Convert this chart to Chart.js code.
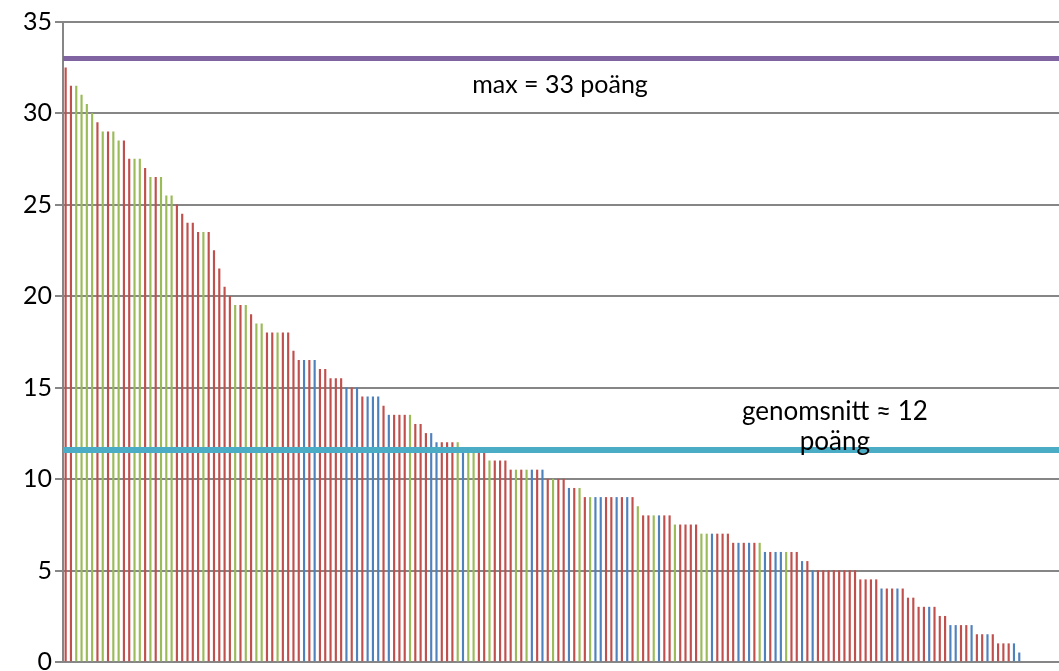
<!DOCTYPE html>
<html>
<head>
<meta charset="utf-8">
<script src="https://cdn.jsdelivr.net/npm/chart.js@4/dist/chart.umd.min.js"></script>
<style>
  html, body { margin: 0; padding: 0; background: #fff; }
  #wrap { width: 1059px; height: 671px; }
</style>
</head>
<body>
<div id="wrap"><canvas id="myChart"></canvas></div>
<script>
(() => {
  'use strict'

  // poäng per deltagare, sorterat fallande (sista är noll)
  const scores = [
    32.5, 31.5, 31.5, 31, 30.5, 30, 29.5, 29, 29, 29,
    28.5, 28.5, 27.5, 27.5, 27.5, 27, 26.5, 26.5, 26.5, 25.5,
    25.5, 25, 24.5, 24, 24, 23.5, 23.5, 23.5, 22.5, 21.5,
    20.5, 20, 19.5, 19.5, 19.5, 19, 18.5, 18.5, 18, 18,
    18, 18, 18, 17, 16.5, 16.5, 16.5, 16.5, 16, 16,
    15.5, 15.5, 15.5, 15, 15, 15, 14.5, 14.5, 14.5, 14.5,
    14, 13.5, 13.5, 13.5, 13.5, 13.5, 13, 13, 12.5, 12.5,
    12, 12, 12, 12, 12, 11.5, 11.5, 11.5, 11.5, 11.5,
    11, 11, 11, 11, 10.5, 10.5, 10.5, 10.5, 10.5, 10.5,
    10.5, 10, 10, 10, 10, 9.5, 9.5, 9.5, 9, 9,
    9, 9, 9, 9, 9, 9, 9, 9, 8.5, 8,
    8, 8, 8, 8, 8, 7.5, 7.5, 7.5, 7.5, 7.5,
    7, 7, 7, 7, 7, 7, 6.5, 6.5, 6.5, 6.5,
    6.5, 6.5, 6, 6, 6, 6, 6, 6, 6, 5.5,
    5.5, 5, 5, 5, 5, 5, 5, 5, 5, 5,
    4.5, 4.5, 4.5, 4.5, 4, 4, 4, 4, 4, 3.5,
    3.5, 3, 3, 3, 3, 2.5, 2.5, 2, 2, 2,
    2, 2, 1.5, 1.5, 1.5, 1.5, 1, 1, 1, 1,
    0.5, 0, 0, 0, 0, 0, 0, 0
  ]

  // grupp per deltagare: R = röd, G = grön, B = blå
  const groups = (
    'RRGGGGRGRG' + 'GRRGGRGRGG' + 'GRRRRRGRRR' + 'RRGRGRGGRR' +
    'GRRRRBRBRR' + 'RRRBRBRBBB' + 'RBRRRGRRRB' + 'BRRRGBGGRR' +
    'GRRRRGRGBR' + 'BRGRRBRGRG' + 'BBRRBRBRGR' + 'RGBRRGRRRR' +
    'GGBRRRRBRB' + 'RGBRBBGRRB' + 'RBRRRRRRRR' + 'RRRRBRRBRR' +
    'RRRBRRRBBR' + 'RBRRBRRRRB' + 'B'
  ).split('')

  const categories = scores.map((_, i) => String(i + 1))
  const yTicks = [0, 5, 10, 15, 20, 25, 30, 35]

  const maxScore = 33
  const avgScore = 11.6

  const series = [
    { key: 'R', color: '#C0504D' },
    { key: 'G', color: '#9BBB59' },
    { key: 'B', color: '#4F81BD' }
  ]

  const barSets = series.map(s => ({
    type: 'bar',
    data: scores.map((v, i) => (groups[i] === s.key ? v : null)),
    backgroundColor: s.color,
    borderWidth: 0,
    barThickness: 1.5,
    grouped: false,
    order: 2
  }))

  const refLine = (value, color, width) => ({
    type: 'line',
    xAxisID: 'xl',
    data: [{ x: 0, y: value }, { x: 1, y: value }],
    borderColor: color,
    borderWidth: width,
    pointRadius: 0,
    order: 0
  })

  // texter vid referenslinjerna
  const labelsPlugin = {
    id: 'refLabels',
    afterDatasetsDraw (chart) {
      const { ctx, scales } = chart
      const xl = scales.xl
      const y = scales.y
      ctx.save()
      ctx.fillStyle = '#000'
      ctx.font = '25px Lato, "Open Sans", sans-serif'
      ctx.textAlign = 'center'
      ctx.textBaseline = 'middle'
      ctx.fillText('max = 33 poäng', xl.getPixelForValue(0.499), y.getPixelForValue(31.55))
      ctx.font = '26px Lato, "Open Sans", sans-serif'
      ctx.fillText('genomsnitt ≈ 12', xl.getPixelForValue(0.775), y.getPixelForValue(13.7))
      ctx.fillText('poäng', xl.getPixelForValue(0.775), y.getPixelForValue(12.05))
      ctx.restore()
    }
  }

  const ctx = document.getElementById('myChart')
  // eslint-disable-next-line no-unused-vars
  const myChart = new Chart(ctx, {
    data: {
      labels: categories,
      datasets: [
        refLine(maxScore, '#8064A2', 5),
        refLine(avgScore, '#4BACC6', 6),
        ...barSets
      ]
    },
    options: {
      responsive: true,
      maintainAspectRatio: false,
      animation: false,
      layout: { padding: { left: 0, top: 22, right: 0, bottom: 9 } },
      plugins: {
        legend: { display: false },
        tooltip: { enabled: false }
      },
      scales: {
        x: { display: false },
        xl: { type: 'linear', display: false, min: 0, max: 1 },
        y: {
          min: 0,
          max: 35,
          afterBuildTicks (scale) {
            scale.ticks = yTicks.map(v => ({ value: v }))
          },
          afterFit (scale) {
            scale.width = 63
            scale.paddingTop = 0
            scale.paddingBottom = 0
          },
          grid: {
            color: '#868686',
            lineWidth: 2,
            tickLength: 8,
            tickColor: '#868686'
          },
          border: { display: true, color: '#868686', width: 2 },
          ticks: {
            color: '#000',
            padding: 3,
            font: { family: 'Lato, "Open Sans", sans-serif', size: 25 }
          }
        }
      }
    },
    plugins: [labelsPlugin]
  })
})()
</script>
</body>
</html>
